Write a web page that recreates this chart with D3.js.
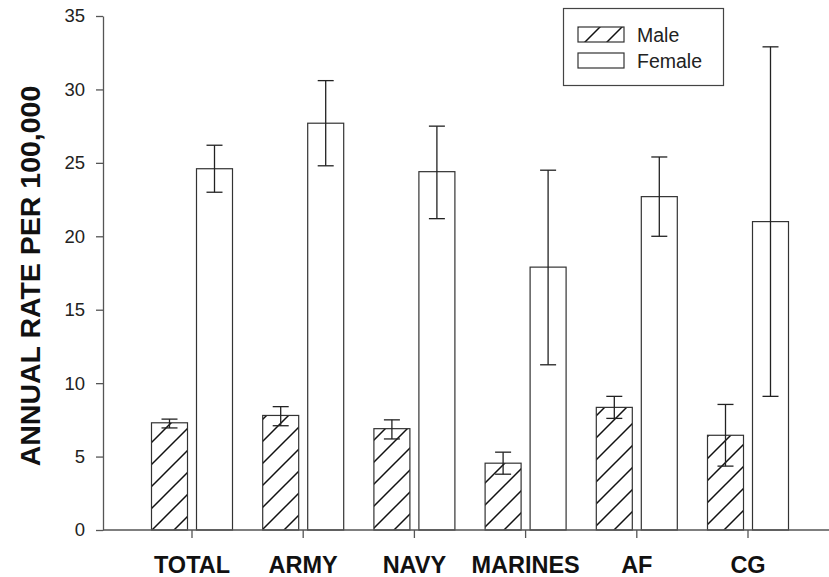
<!DOCTYPE html>
<html>
<head>
<meta charset="utf-8">
<script src="https://cdn.jsdelivr.net/npm/d3@7"></script>
<style>
  body { margin: 0; background: #fff; }
  svg { display: block; }
</style>
</head>
<body>
<div id="chart"></div>
<script>
// values
const categories = ["TOTAL", "ARMY", "NAVY", "MARINES", "AF", "CG"];
const sexes = ["Male", "Female"];
const maleRate = [7.3, 7.8, 6.9, 4.55, 8.35, 6.45];
const maleLow = [6.95, 7.1, 6.2, 3.8, 7.6, 4.35];
const maleHigh = [7.55, 8.4, 7.5, 5.3, 9.1, 8.55];
const femaleRate = [24.6, 27.7, 24.4, 17.9, 22.7, 21.0];
const femaleLow = [23.0, 24.8, 21.2, 11.25, 20.0, 9.1];
const femaleHigh = [26.2, 30.6, 27.5, 24.5, 25.4, 32.9];
const yTicks = [0, 5, 10, 15, 20, 25, 30, 35];

const width = 829, height = 577;

const rows = [];
categories.forEach((c, i) => {
  rows.push({ cat: c, sex: "Male", v: maleRate[i], lo: maleLow[i], hi: maleHigh[i] });
  rows.push({ cat: c, sex: "Female", v: femaleRate[i], lo: femaleLow[i], hi: femaleHigh[i] });
});

const svg = d3.select("#chart").append("svg")
  .attr("width", width)
  .attr("height", height)
  .attr("font-family", "'Liberation Sans', Arial, sans-serif");

const defs = svg.append("defs");
const pat = defs.append("pattern")
  .attr("id", "hatch")
  .attr("patternUnits", "userSpaceOnUse")
  .attr("width", 22)
  .attr("height", 22);
pat.append("rect").attr("width", 22).attr("height", 22).attr("fill", "#fff");
pat.append("path")
  .attr("d", "M0,22 L22,0 M-6,6 L6,-6 M16,28 L28,16")
  .attr("stroke", "#111")
  .attr("stroke-width", 1.5);

const x0 = d3.scaleBand()
  .domain(categories)
  .range([136.4, 803.6])
  .paddingInner(0.2716)
  .paddingOuter(0.1358);

const x1 = d3.scaleBand()
  .domain(sexes)
  .range([0, x0.bandwidth()])
  .paddingInner(0.2);

const y = d3.scaleLinear()
  .domain([0, 35])
  .range([530, 16]);

// bars
svg.append("g")
  .selectAll("rect")
  .data(rows)
  .join("rect")
  .attr("x", d => x0(d.cat) + x1(d.sex))
  .attr("y", d => y(d.v))
  .attr("width", x1.bandwidth())
  .attr("height", d => y(0) - y(d.v))
  .attr("fill", d => d.sex === "Male" ? "url(#hatch)" : "#fff")
  .attr("stroke", "#333")
  .attr("stroke-width", 1.2);

// error bars
const cap = 8;
const err = svg.append("g")
  .attr("stroke", "#222")
  .attr("stroke-width", 1.3)
  .selectAll("g")
  .data(rows)
  .join("g")
  .attr("transform", d => `translate(${x0(d.cat) + x1(d.sex) + x1.bandwidth() / 2},0)`);

err.append("line")
  .attr("y1", d => y(d.lo))
  .attr("y2", d => y(d.hi));
err.append("line")
  .attr("x1", -cap).attr("x2", cap)
  .attr("y1", d => y(d.hi)).attr("y2", d => y(d.hi));
err.append("line")
  .attr("x1", -cap).attr("x2", cap)
  .attr("y1", d => y(d.lo)).attr("y2", d => y(d.lo));

// y axis
const yAxis = svg.append("g")
  .attr("transform", "translate(103,0)")
  .call(d3.axisLeft(y).tickValues(yTicks).tickSize(7).tickPadding(11).tickSizeOuter(0));
yAxis.select(".domain").attr("stroke", "#555").attr("stroke-width", 1.3);
yAxis.selectAll(".tick line").attr("stroke", "#555").attr("stroke-width", 1.3);
yAxis.selectAll("text")
  .attr("font-size", 18.5)
  .attr("fill", "#222")
  .attr("font-family", "'Liberation Sans', Arial, sans-serif");

// x axis
const xAxis = svg.append("g")
  .attr("transform", "translate(0,530)")
  .call(d3.axisBottom(x0).tickSize(8).tickPadding(18).tickSizeOuter(0));
xAxis.select(".domain").remove();
xAxis.append("line")
  .attr("x1", 103).attr("x2", width)
  .attr("stroke", "#555").attr("stroke-width", 1.3);
xAxis.selectAll(".tick line").attr("stroke", "#555").attr("stroke-width", 1.3);
xAxis.selectAll("text")
  .attr("font-size", 23.5)
  .attr("font-weight", "bold")
  .attr("fill", "#111")
  .attr("font-family", "'Liberation Sans', Arial, sans-serif");

// y title
svg.append("text")
  .attr("transform", "translate(40,276) rotate(-90)")
  .attr("text-anchor", "middle")
  .attr("font-size", 28.5)
  .attr("font-weight", "bold")
  .attr("fill", "#111")
  .text("ANNUAL RATE PER 100,000");

// legend
const legend = svg.append("g");
legend.append("rect")
  .attr("x", 563.5).attr("y", 8.5)
  .attr("width", 160).attr("height", 77)
  .attr("fill", "#fff")
  .attr("stroke", "#444")
  .attr("stroke-width", 1.2);

const li = legend.selectAll("g")
  .data(sexes)
  .join("g")
  .attr("transform", (d, i) => `translate(578,${27 + i * 26})`);
li.append("rect")
  .attr("width", 46).attr("height", 15)
  .attr("fill", d => d === "Male" ? "url(#hatch)" : "#fff")
  .attr("stroke", "#333")
  .attr("stroke-width", 1.2);
li.append("text")
  .attr("x", 59)
  .attr("y", 15)
  .attr("font-size", 19.5)
  .attr("fill", "#222")
  .text(d => d);
</script>
</body>
</html>
